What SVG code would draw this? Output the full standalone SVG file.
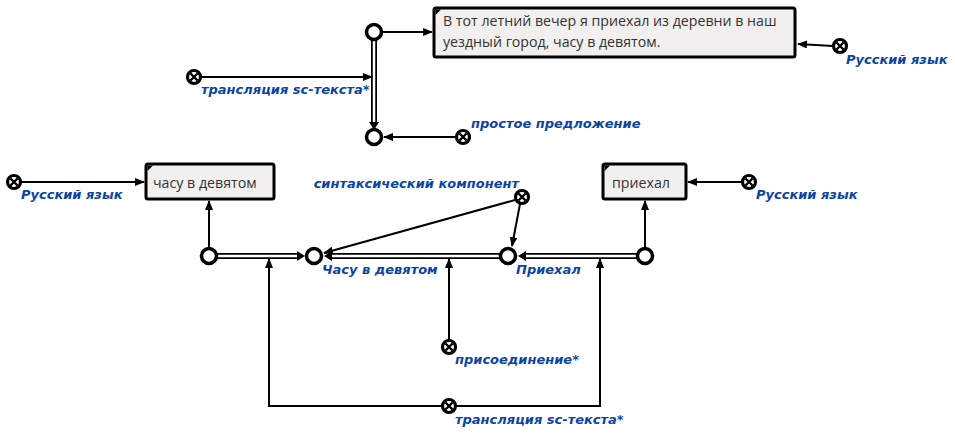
<svg xmlns="http://www.w3.org/2000/svg" width="955" height="437" viewBox="0 0 955 437">
<defs>
<marker id="ah" markerWidth="10" markerHeight="8" refX="9" refY="4" orient="auto" markerUnits="userSpaceOnUse">
<path d="M0,0 L10,4 L0,8 Z" fill="#000"/>
</marker>
</defs>
<style>
.line{stroke:#000;stroke-width:2;fill:none}
.dbl{stroke:#000;stroke-width:6;fill:none}
.dbli{stroke:#fff;stroke-width:2.5;fill:none}
.node{fill:#fff;stroke:#000;stroke-width:3.5}
.cross{fill:#fff;stroke:#000;stroke-width:3.2}
.x{stroke:#000;stroke-width:2.4}
.box{fill:#f1f0ee;stroke:#000;stroke-width:3}
.bt{font-family:"Open Sans","DejaVu Sans",sans-serif;font-size:14.2px;fill:#333}
.lbl{font-family:"DejaVu Sans",sans-serif;font-size:13px;font-weight:bold;font-style:italic;fill:#0a45a3}
</style>
<rect width="955" height="437" fill="#fff"/>
<g id="connectors">
<line class="line" x1="382" y1="32" x2="432" y2="32" marker-end="url(#ah)"/>
<line class="dbl" x1="374" y1="40" x2="374" y2="122"/>
<line class="dbli" x1="374" y1="40" x2="374" y2="122"/>
<path d="M369,122 L379,122 L374,130 Z" fill="#000"/>
<line class="line" x1="201" y1="77" x2="372" y2="77" marker-end="url(#ah)"/>
<line class="line" x1="456" y1="137" x2="384" y2="137" marker-end="url(#ah)"/>
<line class="line" x1="833" y1="46" x2="798" y2="44" marker-end="url(#ah)"/>
<line class="line" x1="21" y1="182" x2="144" y2="182" marker-end="url(#ah)"/>
<line class="line" x1="742" y1="182" x2="688" y2="182" marker-end="url(#ah)"/>
<line class="line" x1="209" y1="248" x2="209" y2="201" marker-end="url(#ah)"/>
<line class="line" x1="645" y1="248" x2="645" y2="201" marker-end="url(#ah)"/>
<line class="dbl" x1="217" y1="256" x2="297" y2="256"/>
<line class="dbli" x1="217" y1="256" x2="297" y2="256"/>
<path d="M297,251 L305,256 L297,261 Z" fill="#000"/>
<line class="dbl" x1="500" y1="256" x2="332" y2="256"/>
<line class="dbli" x1="500" y1="256" x2="332" y2="256"/>
<path d="M332,251 L324,256 L332,261 Z" fill="#000"/>
<line class="dbl" x1="637" y1="256" x2="526" y2="256"/>
<line class="dbli" x1="637" y1="256" x2="526" y2="256"/>
<path d="M526,251 L518,256 L526,261 Z" fill="#000"/>
<line class="line" x1="515" y1="200" x2="324" y2="253" marker-end="url(#ah)"/>
<line class="line" x1="520" y1="204" x2="512" y2="246" marker-end="url(#ah)"/>
<line class="line" x1="449" y1="340" x2="449" y2="259" marker-end="url(#ah)"/>
<path class="line" d="M442,406 L269,406 L269,259" marker-end="url(#ah)"/>
<path class="line" d="M456,406 L600,406 L600,259" marker-end="url(#ah)"/>
</g>
<g id="n-top"><circle class="node" cx="374" cy="32" r="7.5"/></g>
<g id="n-prost"><circle class="node" cx="374" cy="137" r="7.5"/></g>
<g id="box-sentence">
<rect class="box" x="434" y="8" width="361" height="49" rx="2"/>
<path d="M435.5,9.5 L441,9.5 L435.5,15 Z" fill="#000"/>
<text class="bt" x="443" y="26">В тот летний вечер я приехал из деревни в наш</text>
<text class="bt" x="443" y="47">уездный город, часу в девятом.</text>
</g>
<g id="c-rus1"><circle class="cross" cx="840" cy="46" r="6.5"/><path class="x" d="M836.5,42.5 L843.5,49.5 M843.5,42.5 L836.5,49.5"/><text class="lbl" x="846" y="64">Русский язык</text></g>
<g id="c-trans1"><circle class="cross" cx="194" cy="77" r="6.5"/><path class="x" d="M190.5,73.5 L197.5,80.5 M197.5,73.5 L190.5,80.5"/><text class="lbl" x="201" y="94">трансляция sc-текста*</text></g>
<g id="c-prost"><circle class="cross" cx="463" cy="137" r="6.5"/><path class="x" d="M459.5,133.5 L466.5,140.5 M466.5,133.5 L459.5,140.5"/><text class="lbl" x="471" y="128">простое предложение</text></g>
<g id="box-chasu">
<rect class="box" x="146" y="164" width="128" height="35" rx="2"/>
<path d="M147.5,165.5 L153,165.5 L147.5,171 Z" fill="#000"/>
<text class="bt" x="153" y="188">часу в девятом</text>
</g>
<g id="c-rus2"><circle class="cross" cx="14" cy="182" r="6.5"/><path class="x" d="M10.5,178.5 L17.5,185.5 M17.5,178.5 L10.5,185.5"/><text class="lbl" x="21" y="199">Русский язык</text></g>
<g id="box-priehal">
<rect class="box" x="603" y="164" width="83" height="35" rx="2"/>
<path d="M604.5,165.5 L610,165.5 L604.5,171 Z" fill="#000"/>
<text class="bt" x="612" y="188">приехал</text>
</g>
<g id="c-rus3"><circle class="cross" cx="749" cy="182" r="6.5"/><path class="x" d="M745.5,178.5 L752.5,185.5 M752.5,178.5 L745.5,185.5"/><text class="lbl" x="756" y="199">Русский язык</text></g>
<g id="n-c"><circle class="node" cx="209" cy="256" r="7.5"/></g>
<g id="n-d"><circle class="node" cx="314" cy="256" r="7.5"/><text class="lbl" x="322" y="274">Часу в девятом</text></g>
<g id="n-e"><circle class="node" cx="508" cy="256" r="7.5"/><text class="lbl" x="516" y="274">Приехал</text></g>
<g id="n-f"><circle class="node" cx="645" cy="256" r="7.5"/></g>
<g id="c-sint"><circle class="cross" cx="522" cy="197" r="6.5"/><path class="x" d="M518.5,193.5 L525.5,200.5 M525.5,193.5 L518.5,200.5"/><text class="lbl" x="519" y="188" text-anchor="end">синтаксический компонент</text></g>
<g id="c-pris"><circle class="cross" cx="449" cy="347" r="6.5"/><path class="x" d="M445.5,343.5 L452.5,350.5 M452.5,343.5 L445.5,350.5"/><text class="lbl" x="455" y="364">присоединение*</text></g>
<g id="c-trans2"><circle class="cross" cx="449" cy="406" r="6.5"/><path class="x" d="M445.5,402.5 L452.5,409.5 M452.5,402.5 L445.5,409.5"/><text class="lbl" x="455" y="424">трансляция sc-текста*</text></g>
</svg>
